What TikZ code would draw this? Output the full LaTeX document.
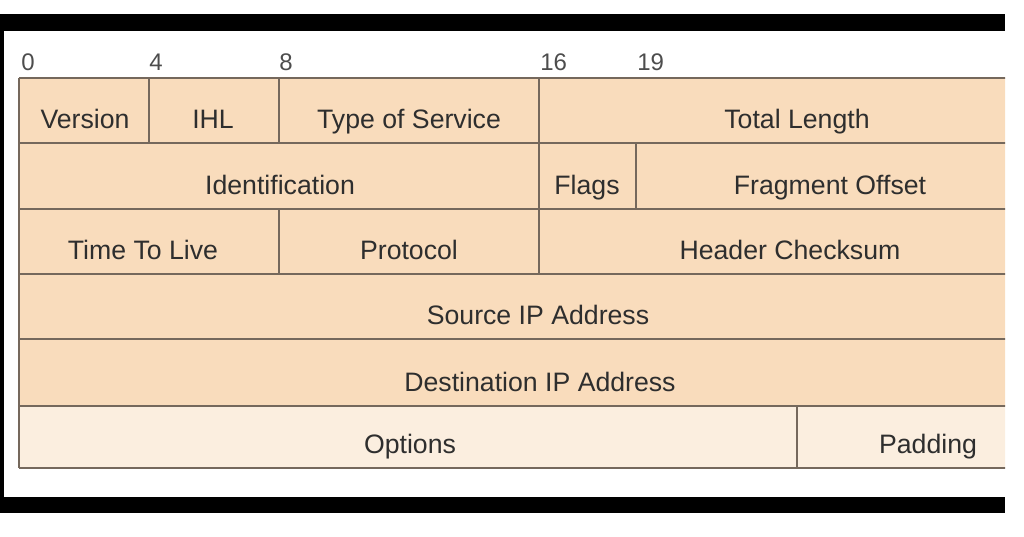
\documentclass[tikz,border=0pt]{standalone}
\usepackage{fontspec}
\setmainfont{Liberation Sans}
\definecolor{hdrfill}{HTML}{F9DCBC}
\definecolor{optfill}{HTML}{FBEEDF}
\definecolor{gridline}{HTML}{75685C}
\definecolor{fieldtext}{HTML}{2E2E2E}
\tikzset{
  field/.style={anchor=base, inner sep=0pt, text=fieldtext, font=\fontsize{20}{23}\selectfont},
  bitnum/.style={anchor=base west, inner sep=0pt, text=fieldtext!85, font=\fontsize{18}{22}\selectfont},
  rule/.style={draw=gridline, line width=1.3pt},
}
\begin{document}
\begin{tikzpicture}[x=0.75pt, y=-0.75pt]
    \useasboundingbox (0,0) rectangle (1024,536);

    % Black frame
    \fill[black] (0,14) rectangle (1005,31);
    \fill[black] (0,14) rectangle (4,513);
    \fill[black] (0,497) rectangle (1005,513);

    \begin{scope}
        \clip (0,0) rectangle (1005,536);
        % Row fills
        \fill[hdrfill] (19,78) rectangle (1059,406);
        \fill[optfill] (19,406) rectangle (1059,468);

        % Row rules
        \foreach \y in {78,143,209,274,339,406,468}
            \draw[rule] (19,\y) -- (1059,\y);
        \draw[rule] (19,78) -- (19,468);

        % Field boundaries
        \draw[rule] (149,78) -- (149,143);
        \draw[rule] (279,78) -- (279,143);
        \draw[rule] (539,78) -- (539,274);
        \draw[rule] (636,143) -- (636,209);
        \draw[rule] (279,209) -- (279,274);
        \draw[rule] (797,406) -- (797,468);
    \end{scope}

    % Bit positions
    \node[bitnum] (b0) at (21,70) {0};
    \node[bitnum] (b4) at (149,70) {4};
    \node[bitnum] (b8) at (279,70) {8};
    \node[bitnum] (b16) at (540,70) {16};
    \node[bitnum] (b19) at (637,70) {19};

    % Fields
    \node[field] (version) at (85,128) {Version};
    \node[field] (ihl) at (213,128) {IHL};
    \node[field] (tos) at (409,128) {Type of Service};
    \node[field] (totlen) at (797,128) {Total Length};
    \node[field] (ident) at (280,194) {Identification};
    \node[field] (flags) at (587,194) {Flags};
    \node[field] (fragoff) at (830,194) {Fragment Offset};
    \node[field] (ttl) at (143,259) {Time To Live};
    \node[field] (proto) at (409,259) {Protocol};
    \node[field] (chksum) at (790,259) {Header Checksum};
    \node[field] (srcip) at (538,324) {Source IP Address};
    \node[field] (dstip) at (540,391) {Destination IP Address};
    \node[field] (options) at (410,453) {Options};
    \node[field] (padding) at (928,453) {Padding};
\end{tikzpicture}
\end{document}
